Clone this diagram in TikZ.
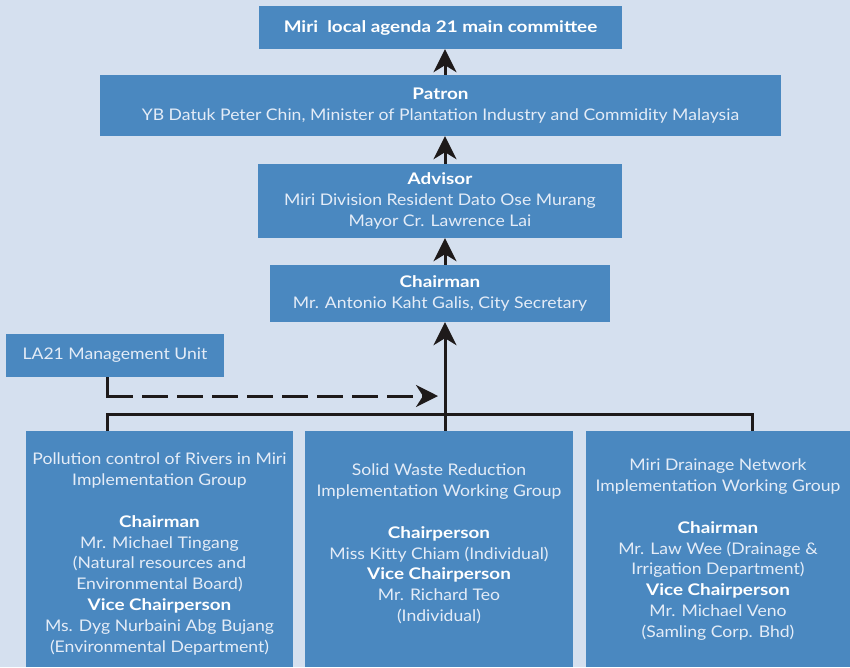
\documentclass[tikz,border=0pt]{standalone}
\usepackage{fontspec}
\setmainfont{Lato}[FakeStretch=1.1, BoldFeatures={FakeStretch=1.18}]
\usetikzlibrary{arrows.meta}
\definecolor{bg}{HTML}{D5E0EF}
\definecolor{boxc}{HTML}{4A88C0}
\definecolor{txt}{HTML}{E4ECF7}
\definecolor{ink}{HTML}{1E1A1A}
\tikzset{
  box/.style={fill=boxc, draw=none, inner sep=0pt, align=center, text=txt,
    font=\fontsize{16}{20.8}\selectfont},
  gtext/.style={inner sep=0pt, align=center, text=txt, anchor=north,
    font=\fontsize{16}{20.8}\selectfont},
  conn/.style={draw=ink, line width=3pt, line join=miter},
  arr/.style={conn, -{Stealth[length=23pt,width=23pt,inset=7pt]}},
  dashconn/.style={conn, dash pattern=on 26pt off 9pt},
}
\newcommand{\hd}[1]{{\bfseries\color{white}#1}}
\begin{document}
\begin{tikzpicture}[x=1pt,y=-1pt]
\useasboundingbox[fill=bg] (0,0) rectangle (850,667);
% top boxes
\node[box, minimum width=363pt, minimum height=43pt] (top) at (440.5,27.5) {\hd{Miri\ \ local agenda 21 main committee}};
\node[box, minimum width=681pt, minimum height=61pt] (patron) at (440.5,105.5) {\hd{Patron}\\YB Datuk Peter Chin, Minister of Plantation Industry and Commidity Malaysia};
\node[box, minimum width=364pt, minimum height=74pt] (advisor) at (440,201) {\hd{Advisor}\\Miri Division Resident Dato Ose Murang\\Mayor Cr. Lawrence Lai};
\node[box, minimum width=340pt, minimum height=57pt] (chair) at (440,293.5) {\hd{Chairman}\\Mr. Antonio Kaht Galis, City Secretary};
\node[box, minimum width=218pt, minimum height=43pt] (la) at (115,355.5) {LA21 Management Unit};
% group boxes
\node[box, minimum width=267pt, minimum height=236pt] (g1) at (159.5,549) {};
\node[box, minimum width=268pt, minimum height=236pt] (g2) at (439,549) {};
\node[box, minimum width=264pt, minimum height=236pt] (g3) at (718,549) {};
\node[gtext] (g1t) at (159.5,453) {Pollution control of Rivers in Miri\\Implementation Group\\[20.8pt]\hd{Chairman}\\Mr. Michael Tingang\\(Natural resources and\\Environmental Board)\\\hd{Vice Chairperson}\\Ms. Dyg Nurbaini Abg Bujang\\(Environmental Department)};
\node[gtext] (g2t) at (439,464) {Solid Waste Reduction\\Implementation Working Group\\[20.8pt]\hd{Chairperson}\\Miss Kitty Chiam (Individual)\\\hd{Vice Chairperson}\\Mr. Richard Teo\\(Individual)};
\node[gtext] (g3t) at (718,459) {Miri Drainage Network\\Implementation Working Group\\[20.8pt]\hd{Chairman}\\Mr. Law Wee (Drainage \&\\Irrigation Department)\\\hd{Vice Chairperson}\\Mr. Michael Veno\\(Samling Corp. Bhd)};
% coordinates
\coordinate (tx) at (445,0);
\coordinate (b1) at (107,414);
\coordinate (b3) at (752,414);
\coordinate (dc) at (107,396);
\coordinate (ds) at (142,396);
\coordinate (dtip) at (438,396);
% connectors
\draw[arr] (patron.north -| tx) -- (top.south -| tx);
\draw[arr] (advisor.north -| tx) -- (patron.south -| tx);
\draw[arr] (chair.north -| tx) -- (advisor.south -| tx);
\draw[arr] (g2.north -| tx) -- (chair.south -| tx);
\draw[conn] (g1.north -| b1) -- (b1) -- (b3) -- (g3.north -| b3);
\draw[conn] (la.south -| dc) -- (dc) -- ([xshift=26pt]dc);
\draw[dashconn, -{Stealth[length=22pt,width=22pt,inset=7pt]}] (ds) -- (dtip);
\end{tikzpicture}
\end{document}
